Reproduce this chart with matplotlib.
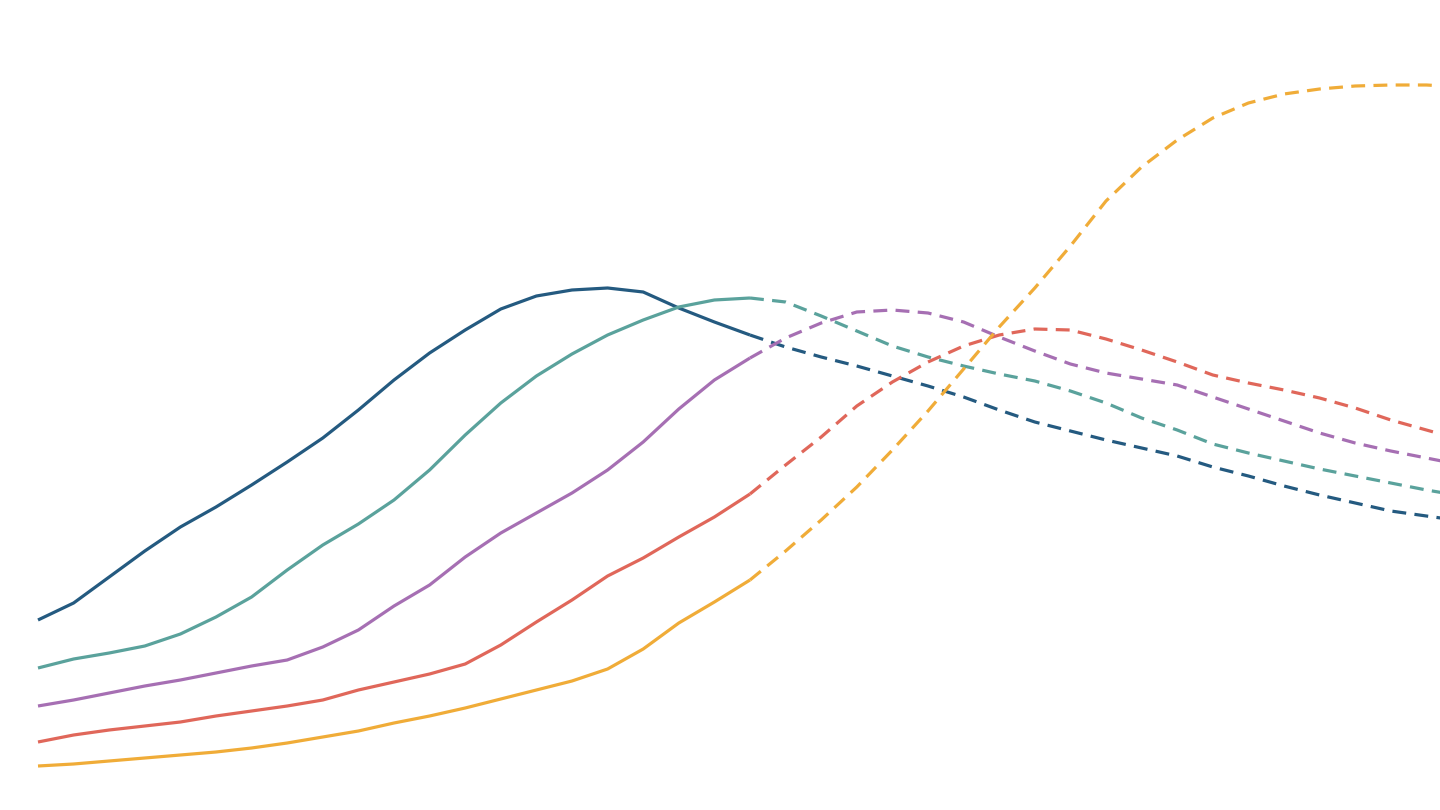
import matplotlib
matplotlib.use("Agg")
import matplotlib.pyplot as plt
import numpy as np

# x positions (periods); observed up to period 20, projected afterwards
periods = list(range(41))
split = 20

series_names = ["Series A", "Series B", "Series C", "Series D", "Series E"]
colors = ["#245a80", "#5aa29c", "#a66fb3", "#e0675a", "#f0ac38"]

series_a = [19.0, 20.7, 23.3, 25.9, 28.3, 30.3, 32.5, 34.8, 37.2, 40.0,
            43.0, 45.7, 48.0, 50.1, 51.4, 52.0, 52.2, 51.8, 50.2, 48.8,
            47.5, 46.3, 45.3, 44.4, 43.4, 42.4, 41.3, 40.0, 38.8, 37.9,
            37.0, 36.2, 35.4, 34.3, 33.4, 32.4, 31.5, 30.7, 29.9, 29.4, 28.9]
series_b = [14.2, 15.1, 15.7, 16.4, 17.6, 19.3, 21.3, 24.0, 26.5, 28.6,
            31.0, 34.0, 37.5, 40.7, 43.4, 45.6, 47.5, 49.0, 50.3, 51.0,
            51.2, 50.8, 49.4, 47.9, 46.4, 45.3, 44.4, 43.6, 42.9, 41.9,
            40.7, 39.2, 38.0, 36.6, 35.7, 34.9, 34.1, 33.4, 32.7, 32.0, 31.4]
series_c = [10.4, 11.0, 11.7, 12.4, 13.0, 13.7, 14.4, 15.0, 16.3, 18.0,
            20.4, 22.5, 25.3, 27.7, 29.7, 31.7, 34.0, 36.8, 40.1, 43.0,
            45.2, 47.2, 48.7, 49.8, 50.0, 49.7, 48.8, 47.3, 45.9, 44.6,
            43.7, 43.1, 42.5, 41.3, 40.1, 38.9, 37.7, 36.7, 35.9, 35.2, 34.5]
series_d = [6.8, 7.5, 8.0, 8.4, 8.8, 9.4, 9.9, 10.4, 11.0, 12.0,
            12.8, 13.6, 14.6, 16.5, 18.8, 21.0, 23.4, 25.2, 27.3, 29.3,
            31.6, 34.5, 37.3, 40.4, 42.8, 44.8, 46.4, 47.5, 48.1, 48.0,
            47.1, 46.0, 44.8, 43.5, 42.7, 42.0, 41.2, 40.2, 39.0, 38.0, 37.0]
series_e = [4.4, 4.6, 4.9, 5.2, 5.5, 5.8, 6.2, 6.7, 7.3, 7.9,
            8.7, 9.4, 10.2, 11.1, 12.0, 12.9, 14.1, 16.1, 18.7, 20.8,
            23.0, 25.9, 29.0, 32.3, 36.0, 39.9, 44.1, 48.3, 52.2, 56.4,
            60.9, 64.3, 67.0, 69.2, 70.7, 71.6, 72.1, 72.4, 72.5, 72.5, 72.3]

all_series = [series_a, series_b, series_c, series_d, series_e]

plt.rcParams['lines.scale_dashes'] = False
fig = plt.figure(figsize=(14.4, 8.1), dpi=100)
ax = fig.add_axes([0, 0, 1, 1])

x = np.array(periods)
for vals, col in zip(all_series, colors):
    y = np.array(vals)
    ax.plot(x[:split + 1], y[:split + 1], color=col, lw=2.3,
            solid_capstyle='butt', solid_joinstyle='round')
    ax.plot(x[split:], y[split:], color=col, lw=2.3,
            dashes=(10, 6), dash_capstyle='butt')

ax.set_xlim(-38 / 35.6, 1402 / 35.6)
ax.set_ylim(0, 81)
ax.axis('off')

fig.savefig("out.png", dpi=100)
